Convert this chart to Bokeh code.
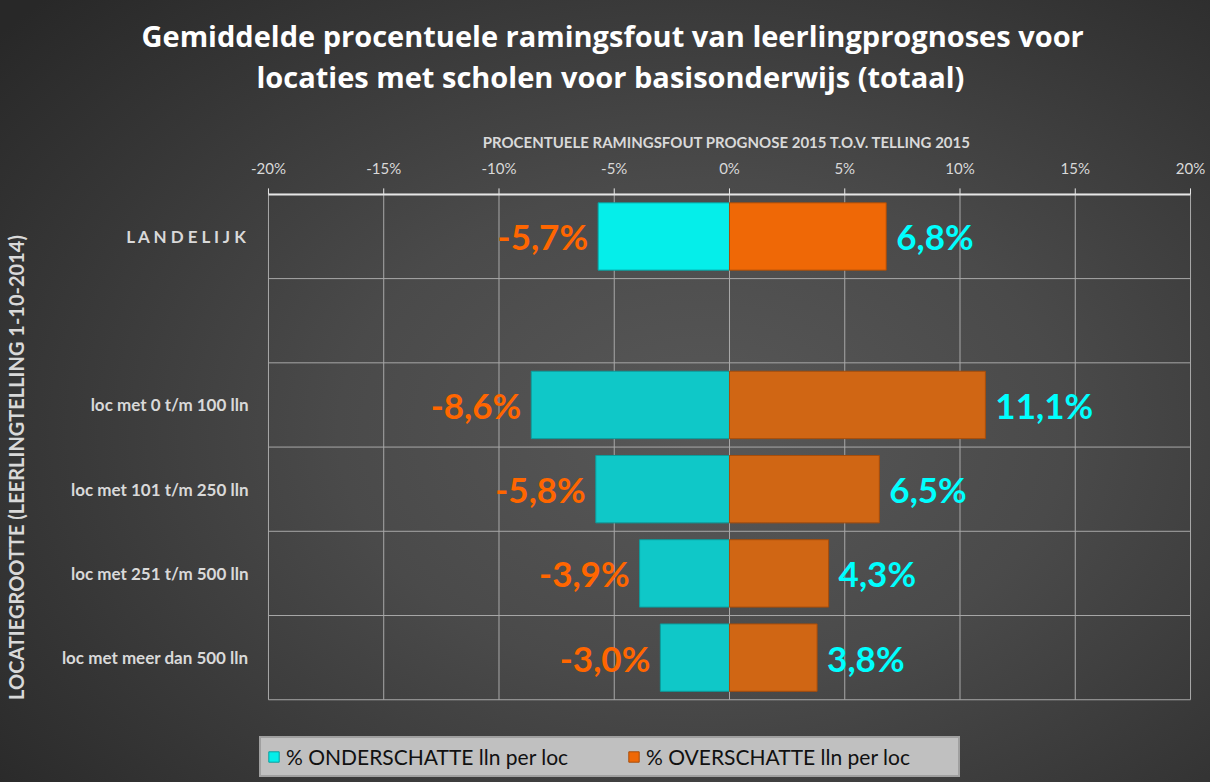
import math
from bokeh.plotting import figure
from bokeh.models import (ColumnDataSource, DataRange1d, FixedTicker, Title, Legend,
                          LegendItem)
from bokeh.core.properties import value
from bokeh.embed import file_html
from bokeh.resources import INLINE

# ---------------- data ----------------
categories = ["LANDELIJK", "", "loc met 0 t/m 100 lln", "loc met 101 t/m 250 lln",
              "loc met 251 t/m 500 lln", "loc met meer dan 500 lln"]
category_labels = ["L A N D E L I J K", "", "loc met 0 t/m 100 lln", "loc met 101 t/m 250 lln",
                   "loc met 251 t/m 500 lln", "loc met meer dan 500 lln"]
onderschat = [-5.7, None, -8.6, -5.8, -3.9, -3.0]
overschat = [6.8, None, 11.1, 6.5, 4.3, 3.8]
x_ticks = [-20, -15, -10, -5, 0, 5, 10, 15, 20]
x_tick_labels = ["-20%", "-15%", "-10%", "-5%", "0%", "5%", "10%", "15%", "20%"]

title_lines = ["Gemiddelde procentuele ramingsfout van leerlingprognoses voor",
               "locaties met scholen voor basisonderwijs (totaal)"]
x_title = "PROCENTUELE RAMINGSFOUT PROGNOSE 2015 T.O.V. TELLING 2015"
y_title = "LOCATIEGROOTTE (LEERLINGTELLING 1-10-2014)"
legend_labels = ["% ONDERSCHATTE lln per loc", "% OVERSCHATTE lln per loc"]

# ---------------- layout constants (pixels) ----------------
n = len(categories)
y_pos = [n - i - 0.5 for i in range(n)]
ROW_PX = 84.5      # one category row
X_PX = 23.075      # one percent
HEAD_PX = 37       # room above the rows (tick labels)
FOOT_PX = 78       # room below the rows (legend)
PAD_L, PAD_R = 20, 15   # room left/right of the -20% / 20% lines

CYAN_HI, CYAN = "#05eeea", "#0fc8c8"
ORANGE_HI, ORANGE = "#ef6806", "#d06614"
LIGHT = "#d9d9d9"
GRID = "#a8a8a8"


def fmt(v):
    return ("%.1f" % v).replace(".", ",") + "%"


def build(vals, hi, normal):
    d = dict(y=[], x=[], label=[], color=[])
    for i, v in enumerate(vals):
        if v is None:
            continue
        d["y"].append(y_pos[i])
        d["x"].append(v)
        d["label"].append(fmt(v))
        d["color"].append(hi if categories[i] == "LANDELIJK" else normal)
    return ColumnDataSource(d)


src_under = build(onderschat, CYAN_HI, CYAN)
src_over = build(overschat, ORANGE_HI, ORANGE)

x0, x1 = x_ticks[0], x_ticks[-1]
p = figure(width=1210, height=782,
           x_range=DataRange1d(start=x0 - PAD_L / X_PX, end=x1 + PAD_R / X_PX),
           y_range=DataRange1d(start=-FOOT_PX / ROW_PX, end=n + HEAD_PX / ROW_PX),
           x_axis_location=None, output_backend="svg", toolbar_location=None)

p.styles = {"background-image":
            "radial-gradient(ellipse 75% 80% at 58% 55%, #585858 0%, #4a4a4a 40%, #363636 75%, #282828 100%)"}
p.border_fill_alpha = 0
p.background_fill_alpha = 0
p.outline_line_color = None
p.xgrid.visible = False
p.ygrid.visible = False

# grid lines limited to the category rows
rows = list(range(n + 1))
p.segment(x0=x_ticks, y0=[0] * len(x_ticks), x1=x_ticks, y1=[n] * len(x_ticks),
          line_color=GRID, line_width=1)
p.segment(x0=[x0] * len(rows), y0=rows, x1=[x1] * len(rows), y1=rows,
          line_color=GRID, line_width=1)

# top axis: line, ticks, labels
p.segment(x0=[x0], y0=[n], x1=[x1], y1=[n], line_color="#e6e6e6", line_width=2)
p.ray(x=x_ticks, y=[n] * len(x_ticks), length=6, length_units="screen",
      angle=math.pi / 2, line_color="#e6e6e6", line_width=1)
p.text(x=x_ticks, y=[n] * len(x_ticks), text=x_tick_labels, y_offset=-26,
       text_align="center", text_baseline="middle", text_color=LIGHT,
       text_font=value("Lato"), text_font_size="15px")

# bars
r_under = p.hbar(y="y", left="x", right=0, height=0.8, source=src_under,
                 fill_color="color", line_color="#0a9e9e", line_width=1)
r_over = p.hbar(y="y", left=0, right="x", height=0.8, source=src_over,
                fill_color="color", line_color="#a84d0a", line_width=1)

# value labels
p.text(x="x", y="y", text="label", source=src_under, x_offset=-10,
       text_align="right", text_baseline="middle", text_color="#ff6600",
       text_font=value("Lato"), text_font_style="bold", text_font_size="35px")
p.text(x="x", y="y", text="label", source=src_over, x_offset=10,
       text_align="left", text_baseline="middle", text_color="#00ffff",
       text_font=value("Lato"), text_font_style="bold", text_font_size="35px")

# y axis
ya = p.yaxis[0]
ya.ticker = FixedTicker(ticks=y_pos)
ya.major_label_overrides = {y: l for y, l in zip(y_pos, category_labels)}
ya.axis_label = y_title
ya.axis_label_text_font = "Lato"
ya.axis_label_text_font_style = "bold"
ya.axis_label_text_font_size = "20px"
ya.axis_label_text_color = LIGHT
ya.axis_label_standoff = 31
ya.major_label_text_font = "Lato"
ya.major_label_text_font_style = "bold"
ya.major_label_text_font_size = "17px"
ya.major_label_text_color = LIGHT
ya.major_label_standoff = 0
ya.axis_line_color = None
ya.major_tick_line_color = None
ya.major_tick_in = 0
ya.major_tick_out = 0
ya.minor_tick_line_color = None

# texts above the plot (stacked outward from the plot area)
ta = Title(text=x_title, align="center", standoff=14,
           text_font="Lato", text_font_style="bold", text_font_size="15px",
           text_color=LIGHT)
spacer = Title(text=" ", align="center", standoff=15, text_font_size="10px")
t2 = Title(text=title_lines[1], align="left", offset=8, standoff=0,
           text_font="Open Sans", text_font_style="bold", text_font_size="29px",
           text_color="#ffffff")
t1 = Title(text=title_lines[0], align="left", offset=-107, standoff=0,
           text_font="Open Sans", text_font_style="bold", text_font_size="29px",
           text_color="#ffffff")
spacer_top = Title(text=" ", align="center", standoff=0, text_font_size="10px")
p.add_layout(ta, "above")
p.add_layout(spacer, "above")
p.add_layout(t2, "above")
p.add_layout(t1, "above")
p.add_layout(spacer_top, "above")

# legend (inside the plot area, below the rows)
legend = Legend(items=[LegendItem(label=legend_labels[0], renderers=[r_under]),
                       LegendItem(label=legend_labels[1], renderers=[r_over])],
                orientation="horizontal", location=(11, 0),
                background_fill_color="#c0c0c0", background_fill_alpha=1,
                border_line_color="#808080", border_line_width=2,
                label_text_font="Lato", label_text_font_size="21px",
                label_text_color="#111111", glyph_width=13, glyph_height=13,
                label_standoff=6, label_width=306, spacing=35, padding=6,
                margin=0)
p.add_layout(legend)

open("out.html", "w").write(file_html(p, INLINE))
